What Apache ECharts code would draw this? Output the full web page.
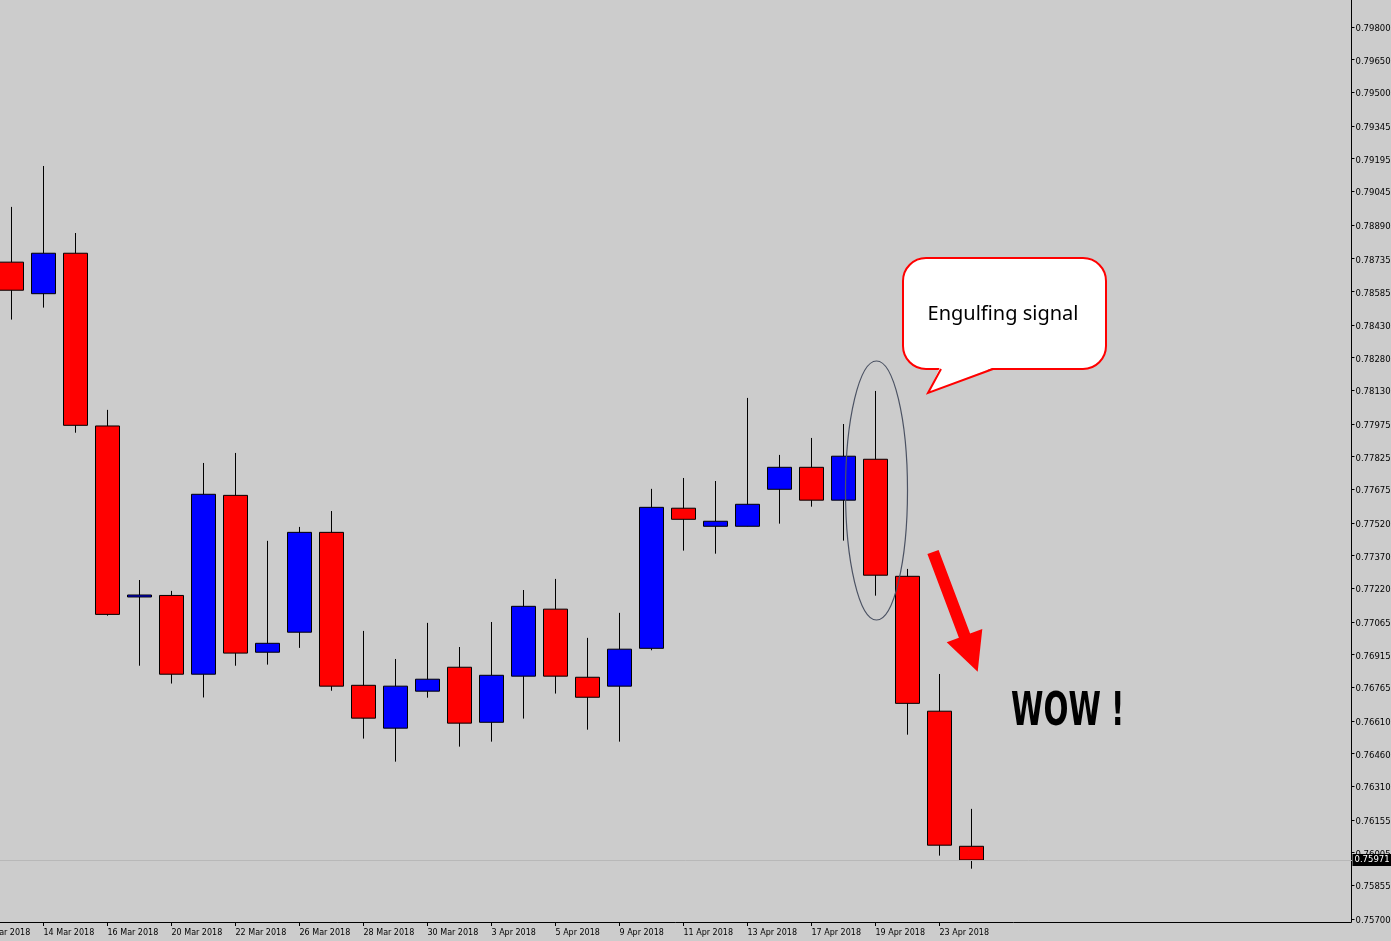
<!DOCTYPE html>
<html>
<head>
<meta charset="utf-8">
<script src="https://cdn.jsdelivr.net/npm/echarts@6/dist/echarts.min.js"></script>
<style>
html,body{margin:0;padding:0;background:#cccccc;}
#chart{width:1391px;height:941px;}
</style>
</head>
<body>
<div id="chart"></div>
<script>
// ---- data ----
var dates = ['12 Mar 2018','13 Mar 2018','14 Mar 2018','15 Mar 2018','16 Mar 2018','19 Mar 2018','20 Mar 2018','21 Mar 2018','22 Mar 2018','23 Mar 2018','26 Mar 2018','27 Mar 2018','28 Mar 2018','29 Mar 2018','30 Mar 2018','2 Apr 2018','3 Apr 2018','4 Apr 2018','5 Apr 2018','6 Apr 2018','9 Apr 2018','10 Apr 2018','11 Apr 2018','12 Apr 2018','13 Apr 2018','16 Apr 2018','17 Apr 2018','18 Apr 2018','19 Apr 2018','20 Apr 2018','23 Apr 2018','24 Apr 2018'];
var futureSlots = 12;
// first entry (12 Mar) is off-screen, no value
var opens  = [null,0.78719,0.78574,0.78760,0.77966,0.77180,0.77187,0.76825,0.77647,0.76926,0.77018,0.77477,0.76774,0.76577,0.76747,0.76857,0.76604,0.76816,0.77124,0.76811,0.76770,0.76944,0.77588,0.77505,0.77505,0.77675,0.77776,0.77625,0.77813,0.77275,0.76655,0.76034];
var closes = [null,0.78590,0.78760,0.77969,0.77100,0.77189,0.76825,0.77652,0.76922,0.76967,0.77477,0.76770,0.76623,0.76770,0.76802,0.76600,0.76820,0.77137,0.76816,0.76719,0.76940,0.77592,0.77537,0.77528,0.77606,0.77776,0.77625,0.77827,0.77280,0.76691,0.76039,0.75971];
var lows   = [null,0.78455,0.78510,0.77935,0.77094,0.76864,0.76782,0.76718,0.76864,0.76869,0.76946,0.76749,0.76529,0.76423,0.76717,0.76492,0.76515,0.76621,0.76736,0.76570,0.76515,0.76935,0.77393,0.77379,0.77504,0.77517,0.77595,0.77439,0.77186,0.76547,0.75991,0.75931];
var highs  = [null,0.78973,0.79161,0.78853,0.78040,0.77258,0.77208,0.77796,0.77842,0.77438,0.77502,0.77575,0.77024,0.76895,0.77061,0.76950,0.77065,0.77212,0.77263,0.76992,0.77107,0.77677,0.77727,0.77713,0.78095,0.77833,0.77911,0.77975,0.78127,0.77309,0.76826,0.76206];
var yTickLabels = ['0.75700','0.75855','0.76005','0.76155','0.76310','0.76460','0.76610','0.76765','0.76915','0.77065','0.77220','0.77370','0.77520','0.77675','0.77825','0.77975','0.78130','0.78280','0.78430','0.78585','0.78735','0.78890','0.79045','0.79195','0.79345','0.79500','0.79650','0.79800'];
var currentPrice = 0.75971;
var annotationText = 'Engulfing signal';
var exclaimText = 'WOW !';

// ---- build ----
var categories = dates.slice();
for (var i = 0; i < futureSlots; i++) categories.push('');
var candleData = opens.map(function (o, i) {
  if (o === null) return ['-', '-', '-', '-'];
  return [o, closes[i], lows[i], highs[i]];
});
var showIdx = function (index, value) { return index % 2 === 0 && value !== ''; };

var chart = echarts.init(document.getElementById('chart'), null, {renderer: 'canvas'});
var option = {
  animation: false,
  backgroundColor: '#cccccc',
  grid: {left: -36.5, right: 19.5, top: 0, bottom: 19, containLabel: false, outerBoundsMode: 'none'},
  xAxis: {
    type: 'category',
    data: categories,
    boundaryGap: true,
    axisLine: {show: false, onZero: false},
    axisTick: {show: true, alignWithLabel: true, interval: showIdx, length: 4, lineStyle: {color: '#000', width: 1}},
    axisLabel: {show: true, interval: showIdx, align: 'left', margin: 7, color: '#000', fontSize: 8, fontFamily: 'DejaVu Sans'},
    splitLine: {show: false}
  },
  yAxis: {
    type: 'value',
    position: 'right',
    offset: -20,
    min: 0.75686,
    max: 0.79924,
    scale: true,
    axisLine: {show: true, lineStyle: {color: '#000', width: 1}},
    axisTick: {show: true, length: 3, lineStyle: {color: '#000'}, customValues: yTickLabels.map(Number)},
    axisLabel: {show: true, margin: 4, color: '#000', fontSize: 8.5, fontFamily: 'DejaVu Sans',
      verticalAlign: 'top', lineHeight: 4,
      customValues: yTickLabels.map(Number),
      formatter: function (v) { return Number(v).toFixed(5); }},
    splitLine: {show: false}
  },
  series: [{
    type: 'candlestick',
    data: candleData,
    barWidth: 24,
    itemStyle: {color: '#0000ff', color0: '#ff0000', borderColor: '#000', borderColor0: '#000', borderColorDoji: '#000', borderWidth: 1},
    emphasis: {disabled: true},
    markLine: {
      silent: true,
      precision: 5,
      symbol: ['none', 'none'],
      animation: false,
      lineStyle: {color: '#b8b8b8', width: 1, type: 'solid'},
      label: {show: true, position: 'end', distance: -19, formatter: function (p) { return Number(p.value).toFixed(5); },
        color: '#fff', backgroundColor: '#000', padding: [2, 2, 1, 2], fontSize: 8.5, fontFamily: 'DejaVu Sans'},
      emphasis: {disabled: true},
      data: [{yAxis: currentPrice}]
    }
  }],
  graphic: [
    {type: 'line', z: 50, silent: true, shape: {x1: 0, y1: 922.5, x2: 1351.5, y2: 922.5}, style: {stroke: '#000', lineWidth: 1}},
    {type: 'ellipse', z: 100, silent: true, shape: {cx: 876.5, cy: 490.5, rx: 31, ry: 129.5}, style: {fill: 'none', stroke: '#4b5263', lineWidth: 1.2}},
    {type: 'rect', z: 100, silent: true, shape: {x: 903, y: 258, width: 203, height: 111, r: 23},
      style: {fill: '#ffffff', stroke: '#ff0000', lineWidth: 2}},
    {type: 'polygon', z: 101, silent: true, shape: {points: [[940, 367], [928, 393], [995, 367]]},
      style: {fill: '#ffffff', stroke: 'none'}},
    {type: 'polyline', z: 102, silent: true, shape: {points: [[941, 369], [928, 393], [993, 369]]},
      style: {fill: 'none', stroke: '#ff0000', lineWidth: 2}},
    {type: 'text', z: 103, silent: true, x: 1003, y: 314,
      style: {text: annotationText, fill: '#000', font: '20px "Noto Sans"', align: 'center', verticalAlign: 'middle', textAlign: 'center', textVerticalAlign: 'middle'}},
    {type: 'polygon', z: 100, silent: true,
      shape: {points: [[927.4, 554.1], [958.9, 637.8], [946.7, 642.3], [977.7, 671.7], [982.3, 629], [970.1, 633.6], [938.6, 549.9]]},
      style: {fill: '#ff0000', stroke: 'none'}},
    {type: 'text', z: 101, silent: true, x: 1011, y: 713, scaleX: 0.71, scaleY: 1,
      style: {text: exclaimText, fill: '#000', font: 'bold 46px "DejaVu Sans Condensed", "Liberation Sans Narrow", "Liberation Sans", sans-serif', align: 'left', verticalAlign: 'middle', textAlign: 'left', textVerticalAlign: 'middle'}}
  ]
};
chart.setOption(option);
</script>
</body>
</html>
